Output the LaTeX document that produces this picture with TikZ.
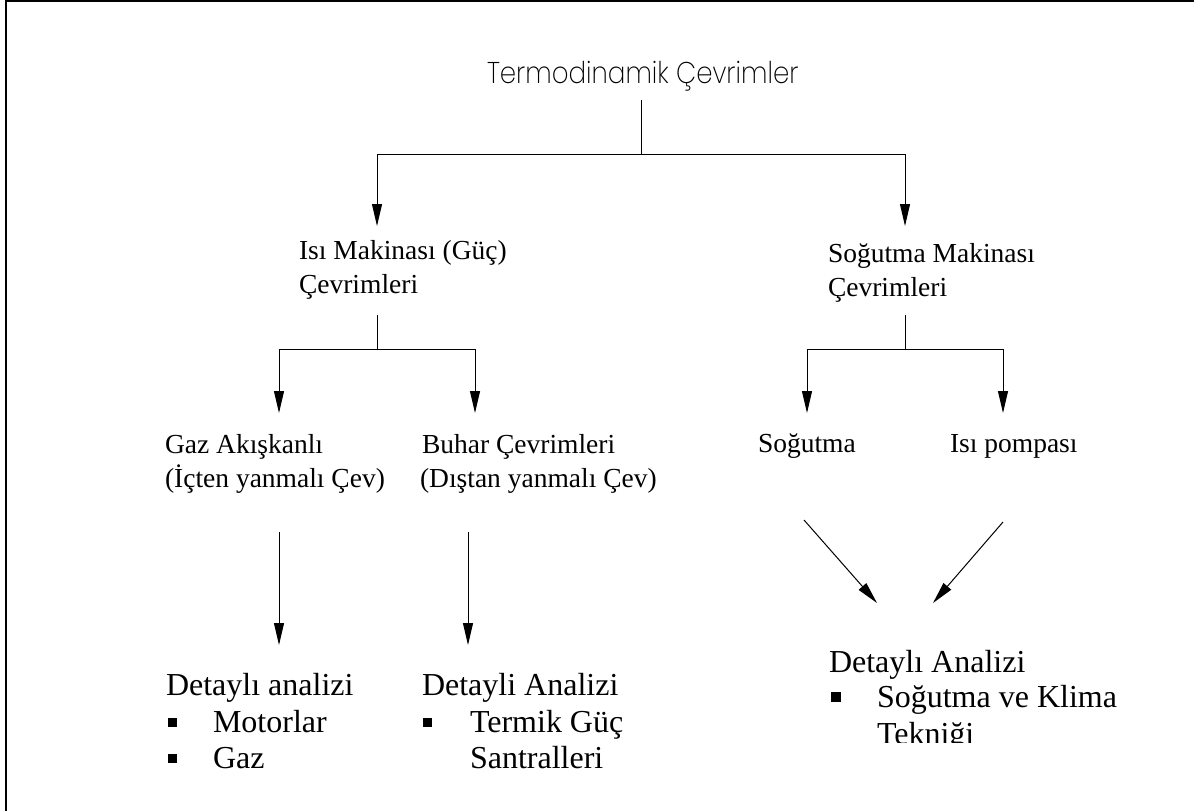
\documentclass[tikz,border=0pt]{standalone}
\usepackage{fontspec}
\setmainfont{Liberation Serif}
\newfontfamily\titlefont{Poppins}[UprightFont={* ExtraLight}]
\usetikzlibrary{arrows.meta}
\tikzset{
  lbl/.style={anchor=base west, inner sep=0pt, outer sep=0pt},
  midtxt/.style={lbl, font=\fontsize{27.5}{33}\selectfont},
  lowtxt/.style={lbl, font=\fontsize{32}{37}\selectfont},
  bul/.style={fill=black, inner sep=0pt, minimum size=9pt, anchor=center},
  conn/.style={line width=1pt, draw=black},
  arr/.style={conn, -{Triangle[length=22pt,width=10pt]}},
}
\begin{document}
\begin{tikzpicture}[x=1pt,y=-1pt]
\useasboundingbox (0,0) rectangle (1194,811);
% frame (left and top edges only)
\draw[line width=2pt] (6,811) -- (6,0.8) -- (1194,0.8);

% title
\node[lbl, font=\titlefont\fontsize{30}{36}\selectfont] (title) at (487,83) {\scalebox{0.87}[1]{Termodinamik Çevrimler}};

% level 2
\node[midtxt] (hm1) at (299,259) {Isı Makinası (Güç)};
\node[midtxt] (hm2) at (299,293) {Çevrimleri};
\node[midtxt] (sm1) at (828,262) {Soğutma Makinası};
\node[midtxt] (sm2) at (828,296) {Çevrimleri};

% level 3
\node[midtxt] (ga1) at (165,453) {Gaz Akışkanlı};
\node[midtxt] (ga2) at (165,487) {(İçten yanmalı Çev)};
\node[midtxt] (bc1) at (422,453) {Buhar Çevrimleri};
\node[midtxt] (bc2) at (420,487) {(Dıştan yanmalı Çev)};
\node[midtxt] (so) at (758,452) {Soğutma};
\node[midtxt] (ip) at (950,452) {Isı pompası};

% level 4
\node[lowtxt] (d1) at (166,695) {Detaylı analizi};
\node[bul] (b1a) at (172.5,722) {};
\node[lowtxt] (d1a) at (213,732) {Motorlar};
\node[bul] (b1b) at (172.5,758) {};
\node[lowtxt] (d1b) at (213,768) {Gaz};

\node[lowtxt] (d2) at (422,695) {Detayli Analizi};
\node[bul] (b2a) at (427.5,722) {};
\node[lowtxt] (d2a) at (470,732) {Termik Güç};
\node[lowtxt] (d2b) at (470,768) {Santralleri};

\node[lowtxt] (d3) at (829,672) {Detaylı Analizi};
\node[bul, minimum size=10pt] (b3a) at (835.5,697) {};
\node[lowtxt] (d3a) at (877,707) {Soğutma ve Klima};
\begin{scope}
  \clip (870,720) rectangle (1100,742);
  \node[lowtxt] (d3b) at (877,744) {Tekniği};
\end{scope}

% connector coordinates
\coordinate (t0) at (641,100);
\coordinate (t1) at (641,154);
\coordinate (tl) at (377,154);
\coordinate (tr) at (905,154);
\coordinate (tlend) at (377,226);
\coordinate (trend) at (905,226);

\coordinate (h0) at (377,315);
\coordinate (h1) at (377,349);
\coordinate (hl) at (279,349);
\coordinate (hr) at (475,349);
\coordinate (hlend) at (279,413);
\coordinate (hrend) at (475,413);

\coordinate (s0) at (905,315);
\coordinate (s1) at (905,349);
\coordinate (sl) at (807,349);
\coordinate (sr) at (1003,349);
\coordinate (slend) at (807,413);
\coordinate (srend) at (1003,413);

\coordinate (g0) at (279,532);
\coordinate (gend) at (279,645);
\coordinate (c0) at (468,532);
\coordinate (cend) at (468,645);

\coordinate (p0) at (804,520);
\coordinate (pend) at (877,603);
\coordinate (q0) at (1003,522);
\coordinate (qend) at (933,603);

% connectors
\draw[conn] (t0) -- (t1);
\draw[arr] (t1) -- (tl) -- (tlend);
\draw[arr] (t1) -- (tr) -- (trend);

\draw[conn] (h0) -- (h1);
\draw[arr] (h1) -- (hl) -- (hlend);
\draw[arr] (h1) -- (hr) -- (hrend);

\draw[conn] (s0) -- (s1);
\draw[arr] (s1) -- (sl) -- (slend);
\draw[arr] (s1) -- (sr) -- (srend);

\draw[arr] (g0) -- (gend);
\draw[arr] (c0) -- (cend);
\draw[arr] (p0) -- (pend);
\draw[arr] (q0) -- (qend);
\end{tikzpicture}
\end{document}
